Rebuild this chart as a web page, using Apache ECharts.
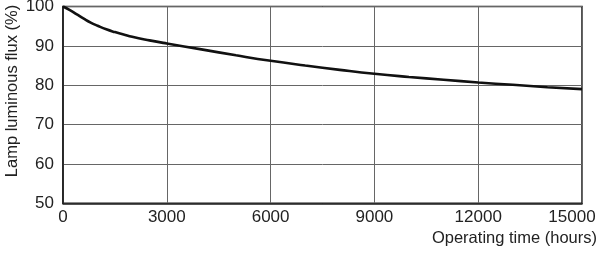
<!DOCTYPE html>
<html><head><meta charset="utf-8">
<script src="https://cdn.jsdelivr.net/npm/echarts@6/dist/echarts.min.js"></script>
<style>html,body{margin:0;padding:0;background:#fff}#c{width:600px;height:254px}</style>
</head><body><div id="c"></div>
<script>
var hours = [0, 200, 400, 600, 800, 1000, 1250, 1500, 1750, 2000, 2500, 3000, 4000, 5000, 6000, 7000, 8000, 9000, 10000, 11000, 12000, 13000, 14000, 15000];
var flux = [100, 99.1, 98.0, 96.9, 95.9, 95.1, 94.2, 93.5, 92.9, 92.3, 91.4, 90.6, 89.1, 87.6, 86.2, 85.0, 83.9, 82.9, 82.1, 81.4, 80.7, 80.1, 79.5, 79.0];
var xTicks = [0, 3000, 6000, 9000, 12000, 15000];
var yName = 'Lamp luminous flux (%)';
var xName = 'Operating time (hours)';

var chart = echarts.init(document.getElementById('c'), null, {renderer: 'canvas'});
var font = 'Liberation Sans, Arial, sans-serif';
chart.setOption({
  animation: false,
  grid: {left: 63, right: 18, top: 6.5, bottom: 50.7, containLabel: false, outerBoundsMode: 'none', show: true, borderColor: '#1a1a1a', borderWidth: 1.5, backgroundColor: 'transparent'},
  xAxis: {
    type: 'value', min: 0, max: 15000, interval: 3000,
    axisLine: {lineStyle: {color: '#1a1a1a', width: 1.5}},
    axisTick: {show: false},
    splitLine: {show: true, lineStyle: {color: '#666', width: 1}},
    axisLabel: {
      color: '#222', fontFamily: font, fontSize: 17, margin: 6, hideOverlap: false,
      formatter: function (v) { return v === xTicks[xTicks.length - 1] ? '{last|' + v + '}' : String(v); },
      rich: {last: {fontFamily: font, fontSize: 17, color: '#222', padding: [0, 20, 0, 0]}}
    }
  },
  yAxis: {
    type: 'value', min: 50, max: 100, interval: 10,
    axisLine: {show: true, lineStyle: {color: '#1a1a1a', width: 1.5}},
    axisTick: {show: false},
    splitLine: {show: true, lineStyle: {color: '#666', width: 1}},
    axisLabel: {color: '#222', fontFamily: font, fontSize: 17, margin: 9, hideOverlap: false}
  },
  graphic: [{
    type: 'text', right: 3, top: 230,
    style: {text: xName, fill: '#222', font: '16.5px ' + font}
  }, {
    type: 'text', x: 12, y: 91, rotation: Math.PI / 2,
    style: {text: yName, fill: '#222', font: '16.5px ' + font, align: 'center', verticalAlign: 'middle'}
  }],
  series: [{
    type: 'line', smooth: true, symbol: 'none',
    data: hours.map(function (h, i) { return [h, flux[i]]; }),
    lineStyle: {color: '#111', width: 2.6}
  }]
});
</script></body></html>
